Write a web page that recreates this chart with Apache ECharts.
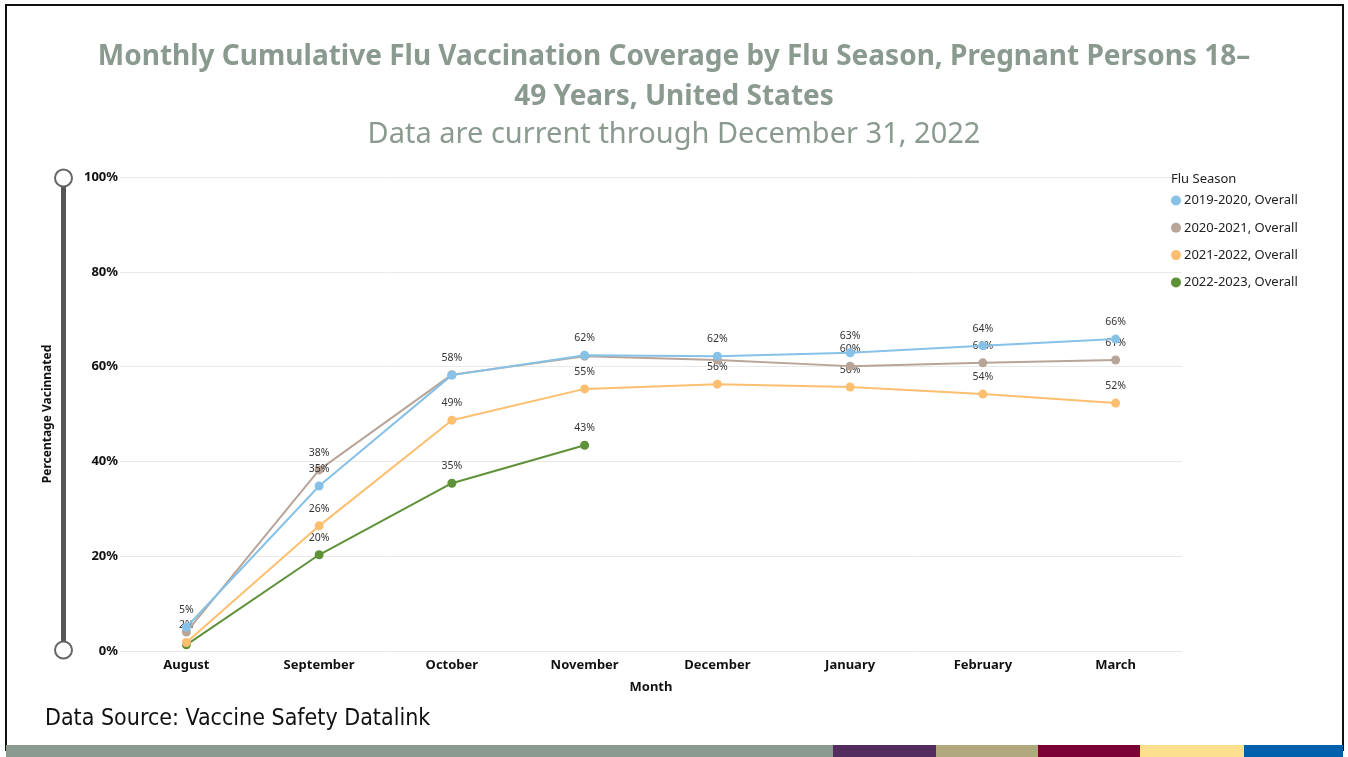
<!DOCTYPE html>
<html>
<head>
<meta charset="utf-8">
<script src="https://cdn.jsdelivr.net/npm/echarts@6/dist/echarts.min.js"></script>
<style>
html, body { margin: 0; padding: 0; background: #fff; }
#main { width: 1348px; height: 757px; }
</style>
</head>
<body>
<div id="main"></div>
<script>
var months = ['August', 'September', 'October', 'November', 'December', 'January', 'February', 'March'];
var seasonNames = ['2019-2020, Overall', '2020-2021, Overall', '2021-2022, Overall', '2022-2023, Overall'];
var s2019 = [5.0, 34.8, 58.2, 62.4, 62.2, 62.9, 64.4, 65.8];
var s2020 = [4.0, 38.2, 58.3, 62.2, 61.4, 60.1, 60.8, 61.4];
var s2021 = [1.8, 26.4, 48.7, 55.3, 56.3, 55.7, 54.2, 52.3];
var s2022 = [1.3, 20.3, 35.4, 43.4];
var seasonColors = ['#86c1e8', '#b8a598', '#fdbf6f', '#5f9138'];
var yTicks = [0, 20, 40, 60, 80, 100];

var myChart = echarts.init(document.getElementById('main'));

var seriesData = [s2019, s2020, s2021, s2022];
var series = [];
for (var i = 0; i < seriesData.length; i++) {
	series.push({
		name: seasonNames[i],
		type: 'line',
		data: seriesData[i],
		symbol: 'circle',
		symbolSize: 9,
		lineStyle: {width: 2, color: seasonColors[i]},
		itemStyle: {color: seasonColors[i]},
		label: {
			show: true, position: 'top', distance: 7,
			fontFamily: 'Noto Sans', fontSize: 10.5, color: '#333',
			formatter: function (p) { return Math.round(p.value) + '%'; }
		},
		labelLayout: {hideOverlap: true},
		z: 10 - i
	});
}

var option = {
	animation: false,
	textStyle: {fontFamily: 'Noto Sans'},
	title: [
		{
			text: 'Monthly Cumulative Flu Vaccination Coverage by Flu Season, Pregnant Persons 18–\n49 Years, United States',
			left: 'center', top: 32,
			textStyle: {fontFamily: 'Noto Sans', fontWeight: 'bold', fontSize: 28, color: '#8a9a8f', lineHeight: 40}
		},
		{
			text: 'Data are current through December 31, 2022',
			left: 'center', top: 115,
			textStyle: {fontFamily: 'Noto Sans', fontWeight: 'normal', fontSize: 29, color: '#8a9a8f'}
		},
		{
			text: 'Flu Season',
			left: 1166, top: 168,
			textStyle: {fontFamily: 'Noto Sans', fontWeight: 'normal', fontSize: 13, color: '#222'}
		},
		{
			text: 'Data Source: Vaccine Safety Datalink',
			left: 40, top: 703,
			textStyle: {fontFamily: 'DejaVu Sans Condensed', fontWeight: 'normal', fontSize: 23, color: '#111'}
		}
	],
	legend: {
		orient: 'vertical', left: 1166, top: 189,
		icon: 'circle', itemWidth: 10, itemHeight: 10, itemGap: 14.3,
		textStyle: {fontSize: 13, color: '#222', padding: [0, 0, 0, -2]},
		data: seasonNames
	},
	grid: {left: 120, right: 166, top: 177, bottom: 106},
	xAxis: {
		type: 'category', data: months, boundaryGap: true,
		name: 'Month', nameLocation: 'middle', nameGap: 30,
		nameTextStyle: {fontWeight: 'bold', fontSize: 13, color: '#111'},
		axisLine: {show: false}, axisTick: {show: false},
		axisLabel: {fontWeight: 'bold', fontSize: 13, color: '#111', margin: 8}
	},
	yAxis: {
		type: 'value', min: 0, max: 100, interval: 20,
		name: 'Percentage Vacinnated', nameLocation: 'middle', nameGap: 66, nameRotate: 90,
		nameTextStyle: {fontWeight: 'bold', fontSize: 12, color: '#111'},
		axisLabel: {
			fontWeight: 'bold', fontSize: 13, color: '#111', margin: 2,
			formatter: function (v) { return yTicks.indexOf(v) >= 0 ? v + '%' : ''; }
		},
		splitLine: {lineStyle: {color: '#e9e9e9', width: 1}}
	},
	dataZoom: [{
		type: 'slider', yAxisIndex: 0, orient: 'vertical',
		left: 60, width: 5, top: 177, bottom: 106,
		start: 0, end: 100,
		showDetail: false, showDataShadow: false, brushSelect: false,
		backgroundColor: 'transparent', borderColor: 'transparent',
		fillerColor: '#555',
		handleIcon: 'circle', handleSize: 17,
		handleStyle: {color: '#fff', borderColor: '#666', borderWidth: 2},
		moveHandleSize: 0,
		zoomLock: true, filterMode: 'none'
	}],
	graphic: [
		{type: 'rect', shape: {x: 6, y: 5, width: 1337, height: 745}, style: {fill: 'none', stroke: '#111', lineWidth: 2}, z: 100},
		{type: 'rect', shape: {x: 6, y: 745, width: 827, height: 12}, style: {fill: '#8a9a8f'}, z: 101},
		{type: 'rect', shape: {x: 833, y: 745, width: 103, height: 12}, style: {fill: '#532d5f'}, z: 101},
		{type: 'rect', shape: {x: 936, y: 745, width: 102, height: 12}, style: {fill: '#b2a87d'}, z: 101},
		{type: 'rect', shape: {x: 1038, y: 745, width: 102, height: 12}, style: {fill: '#7a0036'}, z: 101},
		{type: 'rect', shape: {x: 1140, y: 745, width: 104, height: 12}, style: {fill: '#fde08f'}, z: 101},
		{type: 'rect', shape: {x: 1244, y: 745, width: 99, height: 12}, style: {fill: '#0060ac'}, z: 101}
	],
	series: series
};
myChart.setOption(option);
</script>
</body>
</html>
